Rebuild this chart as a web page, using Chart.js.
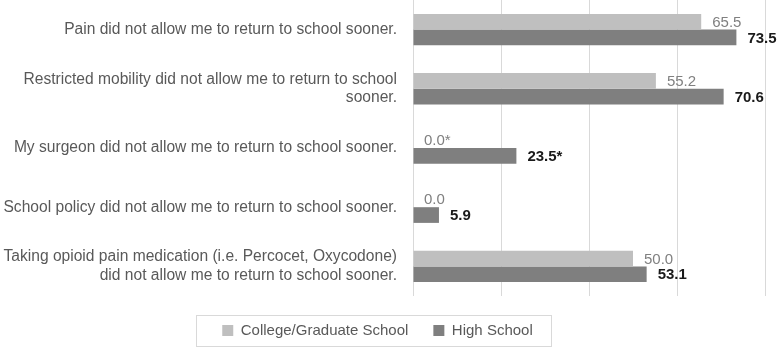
<!DOCTYPE html>
<html>
<head>
<meta charset="utf-8">
<script src="https://cdn.jsdelivr.net/npm/chart.js@4"></script>
<style>
  html, body { margin: 0; padding: 0; background: #fff; }
  #wrap { width: 778px; height: 348px; position: relative; }
</style>
</head>
<body>
<div id="wrap"><canvas id="reasonsChart"></canvas></div>
<script>
var categories = [
    "Pain did not allow me to return to school sooner.",
    ["Restricted mobility did not allow me to return to school", "sooner."],
    "My surgeon did not allow me to return to school sooner.",
    "School policy did not allow me to return to school sooner.",
    ["Taking opioid pain medication (i.e. Percocet, Oxycodone)", "did not allow me to return to school sooner."]
];
var collegeValues = [65.5, 55.2, 0.0, 0.0, 50.0];
var highSchoolValues = [73.5, 70.6, 23.5, 5.9, 53.1];
var notes = ["", "", "*", "", ""];
var xTicks = [0, 20, 40, 60, 80];

var FONT = "'Liberation Sans', Arial, sans-serif";

// value labels at the end of each bar
var barLabels = {
    id: 'barLabels',
    afterDatasetsDraw: function(chart) {
        var ctx = chart.ctx;
        ctx.save();
        ctx.textBaseline = 'middle';
        ctx.textAlign = 'left';
        chart.data.datasets.forEach(function(ds, di) {
            var meta = chart.getDatasetMeta(di);
            meta.data.forEach(function(bar, i) {
                var txt = ds.data[i].toFixed(1) + notes[i];
                if (di === 0) {
                    ctx.font = '15px ' + FONT;
                    ctx.fillStyle = '#808080';
                } else {
                    ctx.font = 'bold 15px ' + FONT;
                    ctx.fillStyle = '#1a1a1a';
                }
                ctx.fillText(txt, bar.x + 11, bar.y + 1);
            });
        });
        ctx.restore();
    }
};

// move legend a bit left and put a thin frame round it
var legendFrame = {
    id: 'legendFrame',
    afterLayout: function(chart) {
        chart.legend.left -= 5;
        chart.legend.right -= 5;
    },
    afterDraw: function(chart) {
        var boxes = chart.legend.legendHitBoxes;
        if (!boxes || !boxes.length) return;
        var l = Infinity, r = -Infinity;
        boxes.forEach(function(b) { l = Math.min(l, b.left); r = Math.max(r, b.left + b.width); });
        var ctx = chart.ctx;
        ctx.save();
        ctx.strokeStyle = '#d9d9d9';
        ctx.lineWidth = 1;
        ctx.strokeRect(Math.round(l - 26) + 0.5, 315.5, Math.round(r - l + 45), 31);
        ctx.restore();
    }
};

var ctx = document.getElementById('reasonsChart').getContext('2d');
var myChart = new Chart(ctx, {
    type: 'bar',
    data: {
        labels: categories,
        datasets: [{
            label: "College/Graduate School",
            data: collegeValues,
            backgroundColor: "#bfbfbf",
        }, {
            label: "High School",
            data: highSchoolValues,
            backgroundColor: "#7f7f7f",
        }]
    },
    options: {
        indexAxis: 'y',
        responsive: true,
        maintainAspectRatio: false,
        animation: false,
        layout: { padding: { top: 0, right: 13, bottom: 0, left: 0 } },
        categoryPercentage: 0.53,
        barPercentage: 1.0,
        scales: {
            x: {
                min: 0,
                max: 80,
                afterBuildTicks: function(scale) {
                    scale.ticks = xTicks.map(function(v) { return { value: v }; });
                },
                afterFit: function(scale) { scale.height = 2; },
                ticks: { display: false },
                grid: { color: '#d9d9d9', drawTicks: false },
                border: { display: false }
            },
            y: {
                afterFit: function(scale) {
                    scale.width = 413;
                    scale.paddingTop = 0;
                    scale.paddingBottom = 0;
                },
                ticks: {
                    color: '#595959',
                    font: { family: FONT, size: 15.6 },
                    padding: 8
                },
                grid: { display: false },
                border: { display: false }
            }
        },
        plugins: {
            legend: {
                position: 'bottom',
                labels: {
                    boxWidth: 11,
                    boxHeight: 11,
                    padding: 25,
                    color: '#595959',
                    font: { family: FONT, size: 15 }
                }
            },
            tooltip: { enabled: false }
        }
    },
    plugins: [barLabels, legendFrame]
});
</script>
</body>
</html>
